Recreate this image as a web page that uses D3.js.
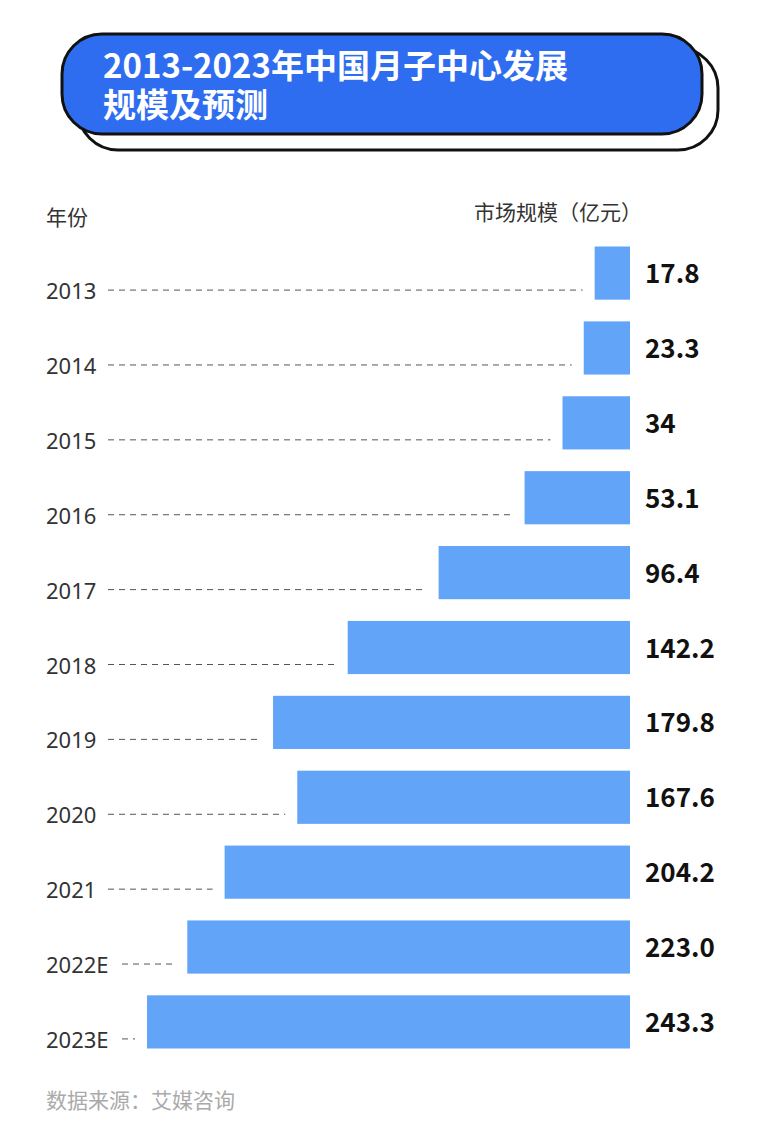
<!DOCTYPE html>
<html><head><meta charset="utf-8">
<script src="https://cdn.jsdelivr.net/npm/d3@7/dist/d3.min.js"></script>
<style>body{margin:0;background:#fff}svg{display:block}</style>
</head><body><svg id="c" width="763" height="1134"></svg>
<script>
const years = ["2013","2014","2015","2016","2017","2018","2019","2020","2021","2022E","2023E"];
const values = [17.8,23.3,34,53.1,96.4,142.2,179.8,167.6,204.2,223.0,243.3];
const valueLabels = ["17.8","23.3","34","53.1","96.4","142.2","179.8","167.6","204.2","223.0","243.3"];
const titleLines = ["2013-2023年中国月子中心发展","规模及预测"];

const svg = d3.select("#c");
const font = "'Noto Sans CJK SC','Noto Sans',sans-serif";
svg.append("rect").attr("x",78).attr("y",48).attr("width",640).attr("height",102).attr("rx",40)
  .attr("fill","#fff").attr("stroke","#111").attr("stroke-width",3);
svg.append("rect").attr("x",62).attr("y",34).attr("width",640).attr("height",100).attr("rx",40)
  .attr("fill","#2f6df0").attr("stroke","#111").attr("stroke-width",3);
svg.selectAll("text.t").data(titleLines).join("text")
  .attr("x",103).attr("y",(d,i)=>78+i*39).attr("fill","#fff")
  .attr("font-family",font).attr("font-weight",700).attr("font-size",33).text(d=>d);

svg.append("text").attr("x",46).attr("y",225).attr("font-family",font).attr("font-size",21).attr("fill","#333").text("年份");
svg.append("text").attr("x",642).attr("y",220).attr("text-anchor","end").attr("font-family",font).attr("font-size",21).attr("fill","#333").text("市场规模（亿元）");

const right = 630;
const x = d3.scaleLinear().domain([0,243.3]).range([0,483]);
const y = d3.scaleBand().domain(years).range([245,1050]).paddingInner(0.29).paddingOuter(0.02);

const g = svg.append("g");
years.forEach((yr,i)=>{
  const cy = y(yr)+y.bandwidth()/2;
  const left = right - x(values[i]);
  g.append("rect").attr("x",left).attr("y",y(yr)).attr("width",x(values[i])).attr("height",y.bandwidth()).attr("fill","#62a4f8");
  g.append("text").attr("x",46).attr("y",cy+26).attr("font-family","'Noto Sans',sans-serif").attr("font-size",22).attr("fill","#333").text(yr);
  const lw = yr.endsWith("E") ? 122 : 108;
  g.append("line").attr("x1",lw).attr("x2",left-12).attr("y1",cy+17).attr("y2",cy+17)
    .attr("stroke","#555").attr("stroke-width",1).attr("stroke-dasharray","6,5");
  g.append("text").attr("x",645).attr("y",cy+10).attr("font-family",font).attr("font-weight",700).attr("font-size",26).attr("fill","#111").text(valueLabels[i]);
});

svg.append("text").attr("x",46).attr("y",1108).attr("font-family",font).attr("font-size",21).attr("fill","#aaa").text("数据来源：艾媒咨询");
</script></body></html>
